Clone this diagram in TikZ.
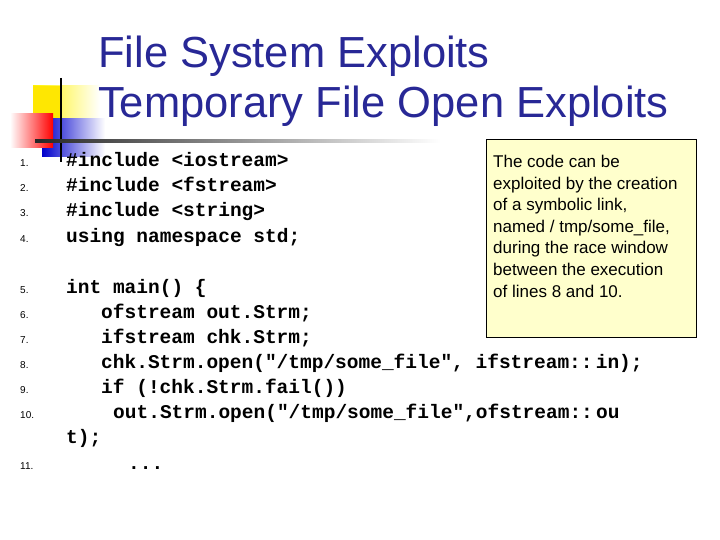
\documentclass[tikz,border=0pt]{standalone}
\usepackage{fontspec}
\setmainfont{Liberation Sans}
\setmonofont{Liberation Mono}
\begin{document}
\begin{tikzpicture}[x=1pt,y=-1pt,
  code/.style={anchor=base west,inner sep=0pt,font=\ttfamily\bfseries\fontsize{19.5}{20}\selectfont},
  num/.style={anchor=base west,inner sep=0pt,font=\fontsize{10}{10}\selectfont},
  ttl/.style={anchor=base west,inner sep=0pt,text=titleblue,font=\fontsize{43.5}{44}\selectfont},
  note/.style={anchor=base west,inner sep=0pt,font=\fontsize{17}{17}\selectfont}]
\definecolor{titleblue}{RGB}{40,40,150}
\definecolor{noteyellow}{RGB}{255,255,204}
\useasboundingbox[fill=white] (0,0) rectangle (720,540);
% logo
\fill[left color=yellow!90!orange,right color=white] (33,86) rectangle (100,119);
\fill[yellow!90!orange] (33,86) rectangle (62,119);
\fill[left color=blue!80!black,right color=white] (42,119) rectangle (105,157);
\fill[left color=white,right color=red] (10,114) rectangle (53,148);
\draw[line width=2pt] (61,78) -- (61,162);
\shade[left color=black!85,right color=white] (35,140) rectangle (440,142.5);
\node[ttl] (t1) at (98,68) {File System Exploits};
\node[ttl] (t2) at (98,118) {Temporary File Open Exploits};
% numbers
\foreach \n/\y in {1/167,2/192,3/217,4/242,5/293,6/318,7/343,8/368,9/393,10/418,11/469}
  \node[num] (n\n) at (20,\y) {\n.};
% code
\node[code] (c1) at (66,167) {\#include <iostream>};
\node[code] (c2) at (66,192) {\#include <fstream>};
\node[code] (c3) at (66,217) {\#include <string>};
\node[code] (c4) at (66,242) {using namespace std;};
\node[code] (c5) at (66,293) {int main() \{};
\node[code] (c6) at (101,318) {ofstream out.Strm;};
\node[code] (c7) at (101,343) {ifstream chk.Strm;};
\node[code] (c8) at (101,368) {chk.Strm.open("/tmp/some\_file", ifstream::\,in);};
\node[code] (c9) at (101,393) {if (!chk.Strm.fail())};
\node[code] (c10) at (113,418) {out.Strm.open("/tmp/some\_file",ofstream::\,ou};
\node[code] (c10b) at (66,443) {t);};
\node[code] (c11) at (128,469) {...};
% note
\draw[fill=noteyellow] (486,139) rectangle (696,337);
\foreach \t [count=\i] in {The code can be,exploited by the creation,{of a symbolic link,},{named / tmp/some\_file,},during the race window,between the execution,of lines 8 and 10.}
  \node[note] (l\i) at (493,{168+21.5*(\i-1)}) {\t};
\end{tikzpicture}
\end{document}
